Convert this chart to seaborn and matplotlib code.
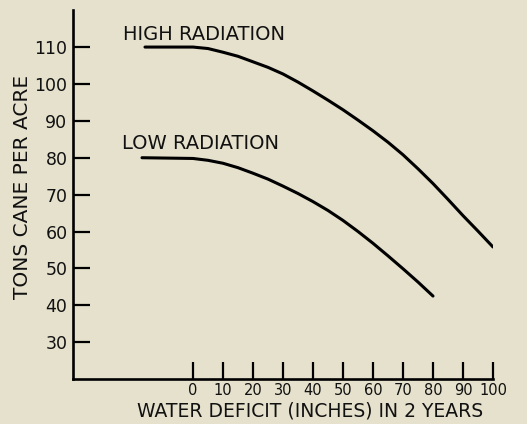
import numpy as np
import pandas as pd
import matplotlib
matplotlib.use("Agg")
import matplotlib.pyplot as plt
import seaborn as sns

# values
high_x = [-16, 0, 5, 10, 15, 20, 25, 30, 35, 40, 45, 50, 55, 60, 65, 70, 75, 80, 85, 90, 95, 100]
high_y = [110, 110, 109.6, 108.6, 107.5, 106, 104.5, 102.7, 100.5, 98.1, 95.6, 93,
          90.2, 87.3, 84.2, 80.8, 77, 73, 68.7, 64.3, 60.1, 55.8]
low_x = [-17, 0, 5, 10, 15, 20, 25, 30, 35, 40, 45, 50, 55, 60, 65, 70, 75, 80]
low_y = [80, 79.8, 79.3, 78.5, 77.3, 75.8, 74.2, 72.3, 70.3, 68.1, 65.7, 63,
         60.0, 56.8, 53.4, 49.9, 46.3, 42.5]
x_ticks = [0, 10, 20, 30, 40, 50, 60, 70, 80, 90, 100]
y_ticks = [30, 40, 50, 60, 70, 80, 90, 100, 110]

df = pd.concat([
    pd.DataFrame({"deficit": high_x, "tons": high_y, "series": "HIGH RADIATION"}),
    pd.DataFrame({"deficit": low_x, "tons": low_y, "series": "LOW RADIATION"}),
])

bg = "#e6e1cd"
sns.set_theme(style="ticks")
plt.rcParams["font.family"] = ["DejaVu Sans"]

fig = plt.figure(figsize=(5.27, 4.24), dpi=100, facecolor=bg)
ax = fig.add_axes([0.1385, 0.106, 0.797, 0.870])
ax.set_facecolor(bg)

sns.lineplot(data=df, x="deficit", y="tons", hue="series",
             palette={"HIGH RADIATION": "black", "LOW RADIATION": "black"},
             linewidth=2.2, legend=False, ax=ax)

ax.set_xlim(-40, 100)
ax.set_ylim(20, 120)
ax.set_xticks(x_ticks)
ax.set_yticks(y_ticks)
ax.set_xticklabels([str(t) for t in x_ticks], fontsize=10.5)
ax.set_yticklabels([str(t) for t in y_ticks], fontsize=12.5)
ax.tick_params(axis="both", direction="in", length=12, width=1.6, color="black", labelcolor="#111111")
ax.tick_params(axis="x", pad=3)
ax.tick_params(axis="y", pad=4)

sns.despine(ax=ax)
for s in ["left", "bottom"]:
    ax.spines[s].set_linewidth(1.9)
    ax.spines[s].set_color("black")

ax.set_xlabel("WATER DEFICIT (INCHES) IN 2 YEARS", fontsize=13.5, color="#111111")
ax.xaxis.set_label_coords(0.564, -0.086)
ax.xaxis.label.set_va("center")
ax.set_ylabel("TONS CANE PER ACRE", fontsize=14.5, color="#111111")
ax.yaxis.set_label_coords(-0.121, 0.52)
ax.yaxis.label.set_va("center")

ax.text(-23.3, 113.5, "HIGH RADIATION", fontsize=14, va="center", ha="left", color="#111111")
ax.text(-23.6, 83.9, "LOW RADIATION", fontsize=14, va="center", ha="left", color="#111111")

fig.savefig("out.png", dpi=100, facecolor=bg)
